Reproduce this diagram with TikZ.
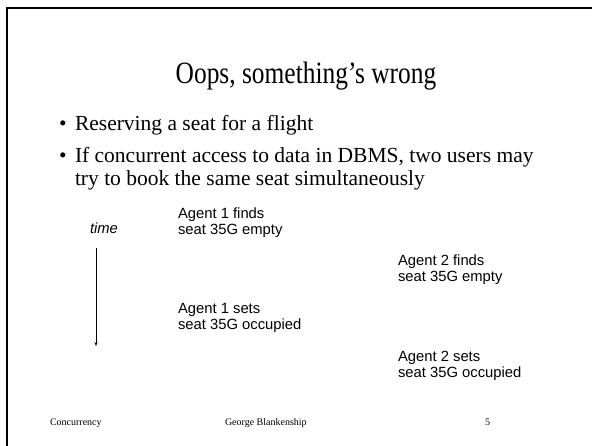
\documentclass[tikz,border=0pt]{standalone}
\usepackage{fontspec}
\usetikzlibrary{arrows.meta}
\setmainfont{Liberation Serif}
\newfontfamily\arialfont{Liberation Sans}
\begin{document}
\begin{tikzpicture}[x=1pt,y=-1pt,
  every node/.style={inner sep=0pt, outer sep=0pt},
  titletext/.style={font=\fontsize{31}{36}\selectfont, anchor=base, xscale=0.82},
  bodytext/.style={font=\fontsize{21.5}{23}\selectfont, anchor=base west},
  bulletmark/.style={font=\fontsize{21.5}{23}\selectfont, anchor=base west},
  agenttext/.style={font=\arialfont\fontsize{14.8}{16}\selectfont, anchor=base west, align=left},
  timetext/.style={font=\arialfont\itshape\fontsize{14.8}{16}\selectfont, anchor=base west},
  footertext/.style={font=\fontsize{10}{12}\selectfont, anchor=base west},
  framerule/.style={line width=2.4pt, line cap=rect}]
  \useasboundingbox[fill=white] (0,0) rectangle (592,445);

  % slide frame (left and top edges)
  \draw[framerule] (7,445) -- (7,8) -- (592,8);

  % title
  \node[titletext] (title) at (306,83) {Oops, something’s wrong};

  % bullets
  \node[bulletmark] (b1) at (59,130) {•};
  \node[bodytext] (t1) at (75,130) {Reserving a seat for a flight};
  \node[bulletmark] (b2) at (59,162) {•};
  \node[bodytext] (t2) at (75,162) {If concurrent access to data in DBMS, two users may};
  \node[bodytext] (t3) at (75,185) {try to book the same seat simultaneously};

  % time line
  \node[timetext] (time) at (90,233) {time};
  \coordinate (tstart) at (96,248);
  \coordinate (tend) at (96,346);
  \draw[-{Stealth[length=4pt,width=3pt]}, line width=0.6pt] (tstart) -- (tend);

  % agent events (base anchor sits on the second line)
  \node[agenttext] (a1find) at (178,234) {Agent 1 finds\\seat 35G empty};
  \node[agenttext] (a2find) at (398,281) {Agent 2 finds\\seat 35G empty};
  \node[agenttext] (a1set) at (178,329) {Agent 1 sets\\seat 35G occupied};
  \node[agenttext] (a2set) at (398,377) {Agent 2 sets\\seat 35G occupied};

  % footer
  \node[footertext] (f1) at (50,425) {Concurrency};
  \node[footertext] (f2) at (225,425) {George Blankenship};
  \node[footertext] (f3) at (485,425) {5};
\end{tikzpicture}
\end{document}
